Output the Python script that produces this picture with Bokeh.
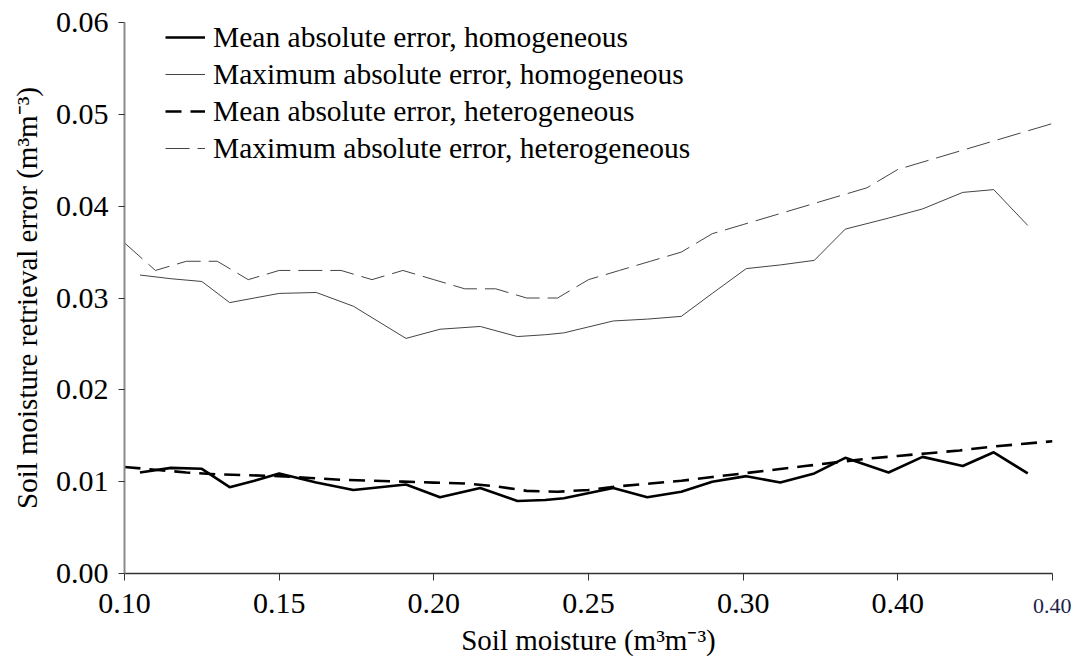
from bokeh.plotting import figure
from bokeh.models import Range1d, FixedTicker, Legend, LegendItem, Title, NumeralTickFormatter
from bokeh.embed import file_html
from bokeh.resources import INLINE

# ---------------- data ----------------
x_het = [0.10, 0.11, 0.12, 0.13, 0.14, 0.15, 0.16, 0.17, 0.18, 0.19, 0.20,
         0.21, 0.22, 0.23, 0.24, 0.25, 0.26, 0.27, 0.28, 0.29, 0.30,
         0.31, 0.32, 0.33, 0.34, 0.35, 0.36, 0.37, 0.38, 0.39, 0.40]
max_het = [0.036, 0.033, 0.034, 0.034, 0.032, 0.033, 0.033, 0.033, 0.032, 0.033, 0.032,
           0.031, 0.031, 0.030, 0.030, 0.032, 0.033, 0.034, 0.035, 0.037, 0.038,
           0.039, 0.040, 0.041, 0.042, 0.044, 0.045, 0.046, 0.047, 0.048, 0.049]
mean_het = [0.0116, 0.0113, 0.0110, 0.0108, 0.0107, 0.0106, 0.0104, 0.0102, 0.0101, 0.0100, 0.0099,
            0.0098, 0.0095, 0.0090, 0.0089, 0.0091, 0.0095, 0.0098, 0.0101, 0.0105, 0.0109,
            0.0113, 0.0117, 0.0121, 0.0125, 0.0128, 0.0131, 0.0134, 0.0138, 0.0141, 0.0144]

x_hom = [0.105, 0.115, 0.125, 0.134, 0.142, 0.150, 0.162, 0.174, 0.191, 0.202, 0.215,
         0.227, 0.236, 0.242, 0.258, 0.269, 0.280, 0.290, 0.301, 0.312, 0.323,
         0.333, 0.347, 0.358, 0.371, 0.381, 0.392]
max_hom = [0.0325, 0.0321, 0.0318, 0.0295, 0.0300, 0.0305, 0.0306, 0.0291, 0.0256, 0.0266, 0.0269,
           0.0258, 0.0260, 0.0262, 0.0275, 0.0277, 0.0280, 0.0305, 0.0332, 0.0336, 0.0341,
           0.0375, 0.0387, 0.0397, 0.0415, 0.0418, 0.0379]
mean_hom = [0.0110, 0.0115, 0.0114, 0.0094, 0.0101, 0.0109, 0.0099, 0.0091, 0.0097, 0.0083, 0.0093,
            0.0079, 0.0080, 0.0082, 0.0093, 0.0083, 0.0089, 0.0100, 0.0106, 0.0099, 0.0109,
            0.0126, 0.0110, 0.0127, 0.0117, 0.0132, 0.0109]

x_ticks = [0.10, 0.15, 0.20, 0.25, 0.30, 0.35, 0.40]
x_tick_labels = ["0.10", "0.15", "0.20", "0.25", "0.30", "0.40", "0.40"]
y_ticks = [0.00, 0.01, 0.02, 0.03, 0.04, 0.05, 0.06]

labels = ["Mean absolute error, homogeneous",
          "Maximum absolute error, homogeneous",
          "Mean absolute error, heterogeneous",
          "Maximum absolute error, heterogeneous"]

FONT = "Liberation Serif"

p = figure(width=1074, height=666, output_backend="svg", toolbar_location=None,
           x_range=Range1d(0.10, 0.40), y_range=Range1d(0.0, 0.06),
           min_border_left=124, min_border_right=22, min_border_top=22, min_border_bottom=90)
p.frame_width = 928
p.frame_height = 551
p.outline_line_color = None
p.xgrid.visible = False
p.ygrid.visible = False
p.background_fill_color = "white"
p.border_fill_color = "white"

r1 = p.line(x_hom, mean_hom, line_color="black", line_width=2.6)
r2 = p.line(x_hom, max_hom, line_color="#444444", line_width=1.0)
r3 = p.line(x_het, mean_het, line_color="black", line_width=2.6, line_dash="16 9")
r4 = p.line(x_het, max_het, line_color="#444444", line_width=1.0, line_dash="24 8")

# x axis
xa = p.xaxis[0]
xa.ticker = FixedTicker(ticks=x_ticks)
xa.major_label_overrides = {t: (l if i < len(x_ticks) - 1 else " ")
                            for i, (t, l) in enumerate(zip(x_ticks, x_tick_labels))}
xa.minor_tick_line_color = None
xa.major_tick_in = 0
xa.major_tick_out = 7
xa.axis_line_color = "#333333"
xa.axis_line_width = 1.3
xa.major_tick_line_color = "#333333"
xa.major_label_text_font = FONT
xa.major_label_text_font_size = "30px"
xa.major_label_text_color = "black"
xa.major_label_standoff = 5
xa.axis_label = "Soil moisture (m³m⁻³)"
xa.axis_label_text_font = FONT
xa.axis_label_text_font_size = "29px"
xa.axis_label_text_font_style = "normal"
xa.axis_label_text_color = "black"
xa.axis_label_standoff = 2

# the last, smaller tick label (drawn in the panel below the axis, pulled up)
p.add_layout(Title(text=x_tick_labels[-1], align="right", offset=-19, standoff=-120,
                   vertical_align="top",
                   text_font=FONT, text_font_size="22px", text_font_style="normal",
                   text_color="#1c2448"), "below")

ya = p.yaxis[0]
ya.ticker = FixedTicker(ticks=y_ticks)
ya.formatter = NumeralTickFormatter(format="0.00")
ya.minor_tick_line_color = None
ya.major_tick_in = 0
ya.major_tick_out = 6
ya.axis_line_color = "#8a8a8a"
ya.axis_line_width = 2
ya.major_tick_line_color = "#333333"
ya.major_label_text_font = FONT
ya.major_label_text_font_size = "30px"
ya.major_label_text_color = "black"
ya.major_label_standoff = 10
ya.axis_label = "Soil moisture retrieval error (m³m⁻³)"
ya.axis_label_text_font = FONT
ya.axis_label_text_font_size = "29px"
ya.axis_label_text_font_style = "normal"
ya.axis_label_text_color = "black"
ya.axis_label_standoff = 10

legend = Legend(items=[LegendItem(label=labels[0], renderers=[r1]),
                       LegendItem(label=labels[1], renderers=[r2]),
                       LegendItem(label=labels[2], renderers=[r3]),
                       LegendItem(label=labels[3], renderers=[r4])],
                location=(41, 408), border_line_color=None, background_fill_alpha=0,
                label_text_font=FONT, label_text_font_size="29.5px", label_text_color="black",
                glyph_width=40, glyph_height=20, label_height=34, spacing=3,
                label_standoff=8, padding=0, margin=0)
p.add_layout(legend)

open("out.html", "w").write(file_html(p, INLINE))
